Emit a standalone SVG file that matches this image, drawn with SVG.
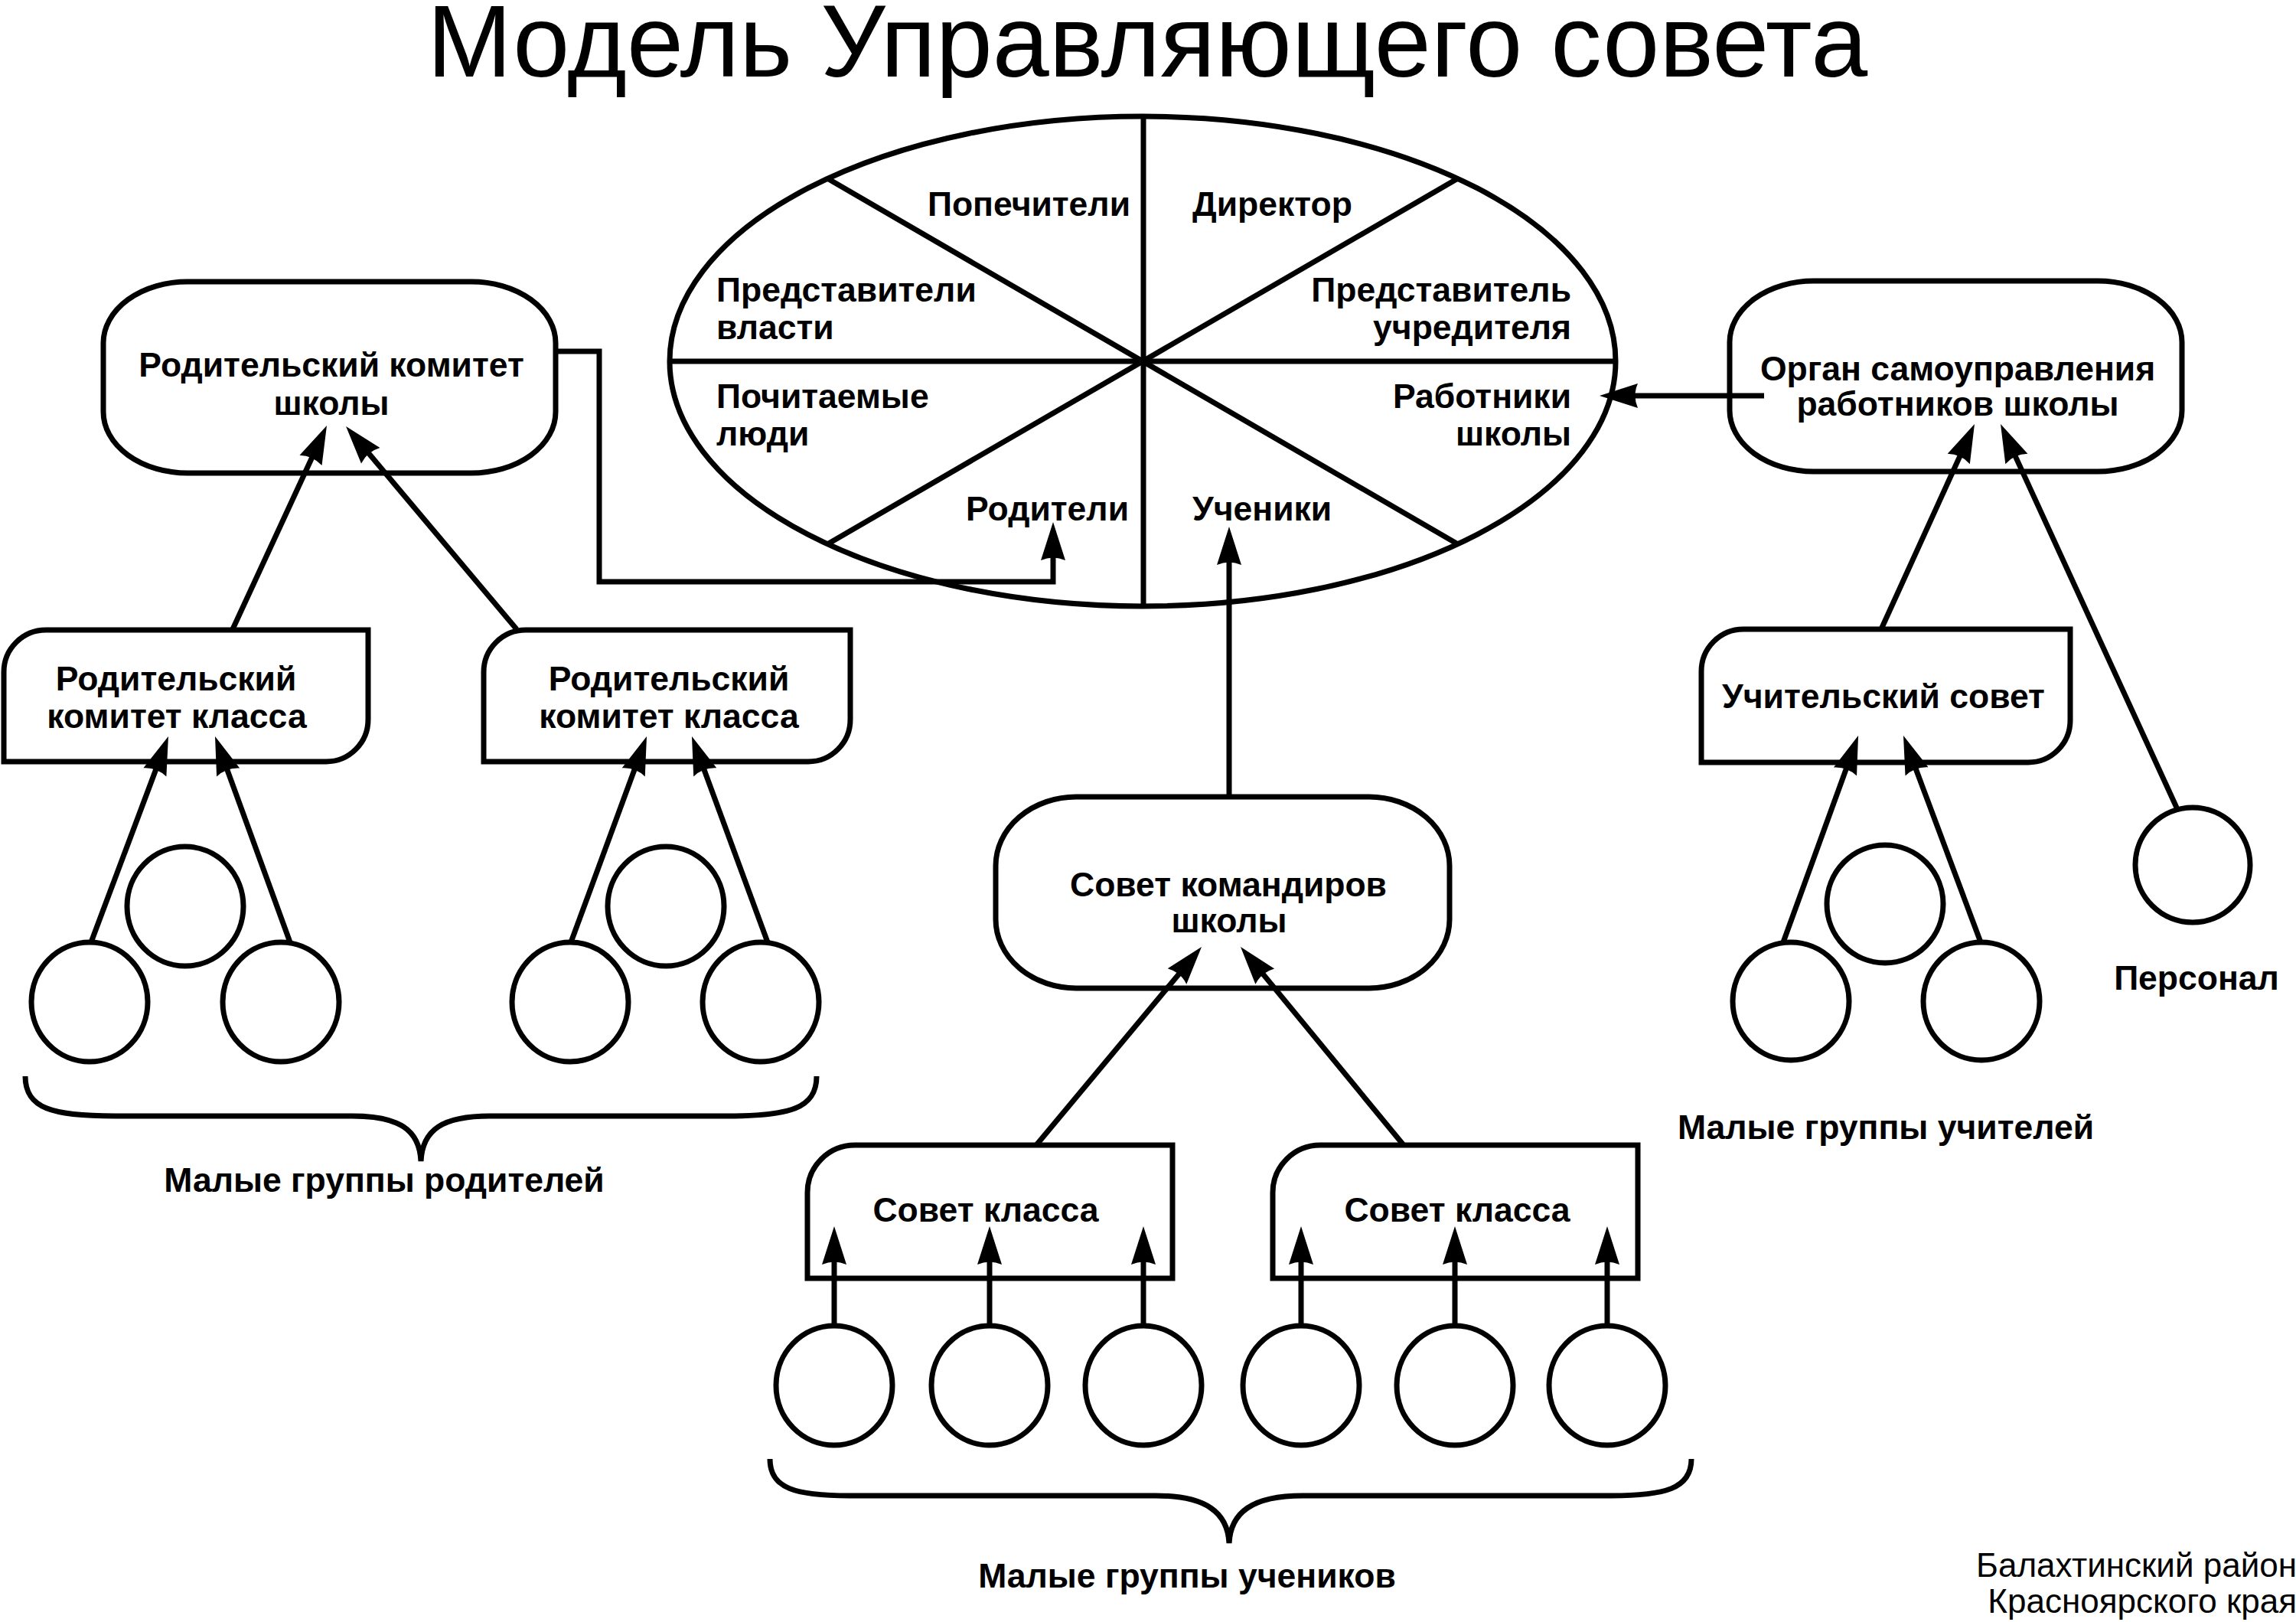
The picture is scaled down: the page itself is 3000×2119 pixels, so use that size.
<svg xmlns="http://www.w3.org/2000/svg" width="3000" height="2119" viewBox="0 0 3000 2119">
<style>
.sh{fill:none;stroke:#000;stroke-width:7}
.cn{fill:none;stroke:#000;stroke-width:7;marker-end:url(#ah)}
.lb{font-family:"Liberation Sans",Arial,sans-serif;font-weight:bold;font-size:44.5px;fill:#000}
.c{text-anchor:middle}
.e{text-anchor:end}
.t{font-family:"Liberation Sans",Arial,sans-serif;font-size:133px;fill:#000}
.f{font-family:"Liberation Sans",Arial,sans-serif;font-size:44px;fill:#000;text-anchor:end}
</style>
<defs>
<marker id="ah" markerUnits="userSpaceOnUse" viewBox="-15 -20 60 40" markerWidth="60" markerHeight="40" refX="0" refY="0" orient="auto">
<path d="M40,0 L-10,-16 Q-3,0 -10,16 Z" fill="#000"/>
</marker>
</defs>
<rect width="3000" height="2119" fill="#fff"/>
<text class="t" x="558" y="100">Модель Управляющего совета</text>

<g id="council">
<ellipse class="sh" cx="1493" cy="472" rx="618" ry="320"/>
<line class="sh" x1="1494" y1="152" x2="1494" y2="792"/>
<line class="sh" x1="875" y1="472" x2="2111" y2="472"/>
<line class="sh" x1="1081.4" y1="233.3" x2="1904.6" y2="710.7"/>
<line class="sh" x1="1081.4" y1="710.7" x2="1904.6" y2="233.3"/>
<text class="lb e" x="1477" y="282">Попечители</text>
<text class="lb" x="1558" y="282">Директор</text>
<text class="lb" x="936" y="394">Представители</text>
<text class="lb" x="936" y="443">власти</text>
<text class="lb e" x="2053" y="394">Представитель</text>
<text class="lb e" x="2053" y="443">учредителя</text>
<text class="lb" x="936" y="533">Почитаемые</text>
<text class="lb" x="936" y="582">люди</text>
<text class="lb e" x="2053" y="533">Работники</text>
<text class="lb e" x="2053" y="582">школы</text>
<text class="lb e" x="1475" y="680">Родители</text>
<text class="lb" x="1558" y="680">Ученики</text>
</g>

<g id="parent-school-committee">
<rect class="sh" x="135" y="368" width="591" height="250" rx="110" ry="80"/>
<text class="lb c" x="433" y="492">Родительский комитет</text>
<text class="lb c" x="433" y="542">школы</text>
</g>
<g id="parent-class-committee-1">
<path class="sh" d="M5,995 V878 A55,55 0 0 1 60,823 H481 V940 A55,55 0 0 1 426,995 Z"/>
<text class="lb c" x="230" y="902">Родительский</text>
<text class="lb c" x="231" y="951">комитет класса</text>
</g>
<g id="parent-class-committee-2">
<path class="sh" d="M632,995 V878 A55,55 0 0 1 687,823 H1111 V940 A55,55 0 0 1 1056,995 Z"/>
<text class="lb c" x="874" y="902">Родительский</text>
<text class="lb c" x="874" y="951">комитет класса</text>
</g>
<g id="parent-groups">
<ellipse class="sh" cx="242" cy="1184" rx="76" ry="78"/>
<ellipse class="sh" cx="117" cy="1309" rx="76" ry="78"/>
<ellipse class="sh" cx="367" cy="1309" rx="76" ry="78"/>
<ellipse class="sh" cx="870" cy="1184" rx="76" ry="78"/>
<ellipse class="sh" cx="745" cy="1309" rx="76" ry="78"/>
<ellipse class="sh" cx="994" cy="1309" rx="76" ry="78"/>
<path class="sh" d="M33,1406 C33,1448 68,1458 150,1458 L460,1458 C522,1458 548,1476 550,1517 C552,1476 578,1458 640,1458 L950,1458 C1032,1458 1067,1448 1067,1406"/>
<text class="lb c" x="502" y="1557">Малые группы родителей</text>
</g>

<g id="commanders-council">
<rect class="sh" x="1301" y="1041" width="593" height="250" rx="105" ry="90"/>
<text class="lb c" x="1605" y="1171">Совет командиров</text>
<text class="lb c" x="1606" y="1218">школы</text>
</g>
<g id="class-council-1">
<path class="sh" d="M1055,1670 V1558 A62,62 0 0 1 1117,1496 H1532 V1670 Z"/>
<text class="lb c" x="1288" y="1596">Совет класса</text>
</g>
<g id="class-council-2">
<path class="sh" d="M1663,1670 V1558 A62,62 0 0 1 1725,1496 H2140 V1670 Z"/>
<text class="lb c" x="1904" y="1596">Совет класса</text>
</g>
<g id="student-groups">
<ellipse class="sh" cx="1090" cy="1810" rx="76" ry="78"/>
<ellipse class="sh" cx="1293" cy="1810" rx="76" ry="78"/>
<ellipse class="sh" cx="1494" cy="1810" rx="76" ry="78"/>
<ellipse class="sh" cx="1700" cy="1810" rx="76" ry="78"/>
<ellipse class="sh" cx="1901" cy="1810" rx="76" ry="78"/>
<ellipse class="sh" cx="2100" cy="1810" rx="76" ry="78"/>
<path class="sh" d="M1006,1906 C1006,1945 1040,1954 1110,1954 L1510,1954 C1576,1954 1604,1976 1606,2016 C1608,1976 1636,1954 1702,1954 L2105,1954 C2175,1954 2210,1945 2210,1906"/>
<text class="lb c" x="1551" y="2074">Малые группы учеников</text>
</g>

<g id="staff-self-government">
<rect class="sh" x="2260" y="367" width="591" height="249" rx="110" ry="80"/>
<text class="lb c" x="2558" y="497">Орган самоуправления</text>
<text class="lb c" x="2558" y="543">работников школы</text>
</g>
<g id="teachers-council">
<path class="sh" d="M2223,996 V877 A55,55 0 0 1 2278,822 H2705 V941 A55,55 0 0 1 2650,996 Z"/>
<text class="lb c" x="2461" y="925">Учительский совет</text>
</g>
<g id="teacher-groups">
<ellipse class="sh" cx="2463" cy="1181" rx="76" ry="77"/>
<ellipse class="sh" cx="2340" cy="1308" rx="76" ry="77"/>
<ellipse class="sh" cx="2589" cy="1308" rx="76" ry="77"/>
<text class="lb c" x="2464" y="1488">Малые группы учителей</text>
</g>
<g id="personnel">
<ellipse class="sh" cx="2865" cy="1130" rx="75" ry="75"/>
<text class="lb c" x="2870" y="1293">Персонал</text>
</g>

<g id="connectors">
<polyline class="cn" points="726,459 783,459 783,760 1376,760 1376,722"/>
<line class="cn" x1="1606" y1="1041" x2="1606" y2="728"/>
<line class="cn" x1="2305" y1="517" x2="2130" y2="517"/>
<line class="cn" x1="304" y1="822" x2="410.2" y2="592.3"/>
<line class="cn" x1="675" y1="822" x2="477.8" y2="587.6"/>
<line class="cn" x1="119" y1="1231" x2="205.9" y2="999.5"/>
<line class="cn" x1="379" y1="1231" x2="294.7" y2="999.6"/>
<line class="cn" x1="746" y1="1231" x2="831.2" y2="999.5"/>
<line class="cn" x1="1003" y1="1231" x2="917.8" y2="999.5"/>
<line class="cn" x1="1354" y1="1496" x2="1544.4" y2="1267.7"/>
<line class="cn" x1="1834" y1="1496" x2="1646.4" y2="1267.9"/>
<line class="cn" x1="1090" y1="1732" x2="1090" y2="1642"/>
<line class="cn" x1="1293" y1="1732" x2="1293" y2="1642"/>
<line class="cn" x1="1494" y1="1732" x2="1494" y2="1642"/>
<line class="cn" x1="1700" y1="1732" x2="1700" y2="1642"/>
<line class="cn" x1="1901" y1="1732" x2="1901" y2="1642"/>
<line class="cn" x1="2100" y1="1732" x2="2100" y2="1642"/>
<line class="cn" x1="2458" y1="822" x2="2563.4" y2="590.4"/>
<line class="cn" x1="2844" y1="1055" x2="2630.7" y2="590.4"/>
<line class="cn" x1="2330" y1="1231" x2="2414.4" y2="998.6"/>
<line class="cn" x1="2588" y1="1231" x2="2501" y2="998.5"/>
</g>

<text class="f" x="3001" y="2060">Балахтинский район</text>
<text class="f" x="3001" y="2107">Красноярского края</text>
</svg>
